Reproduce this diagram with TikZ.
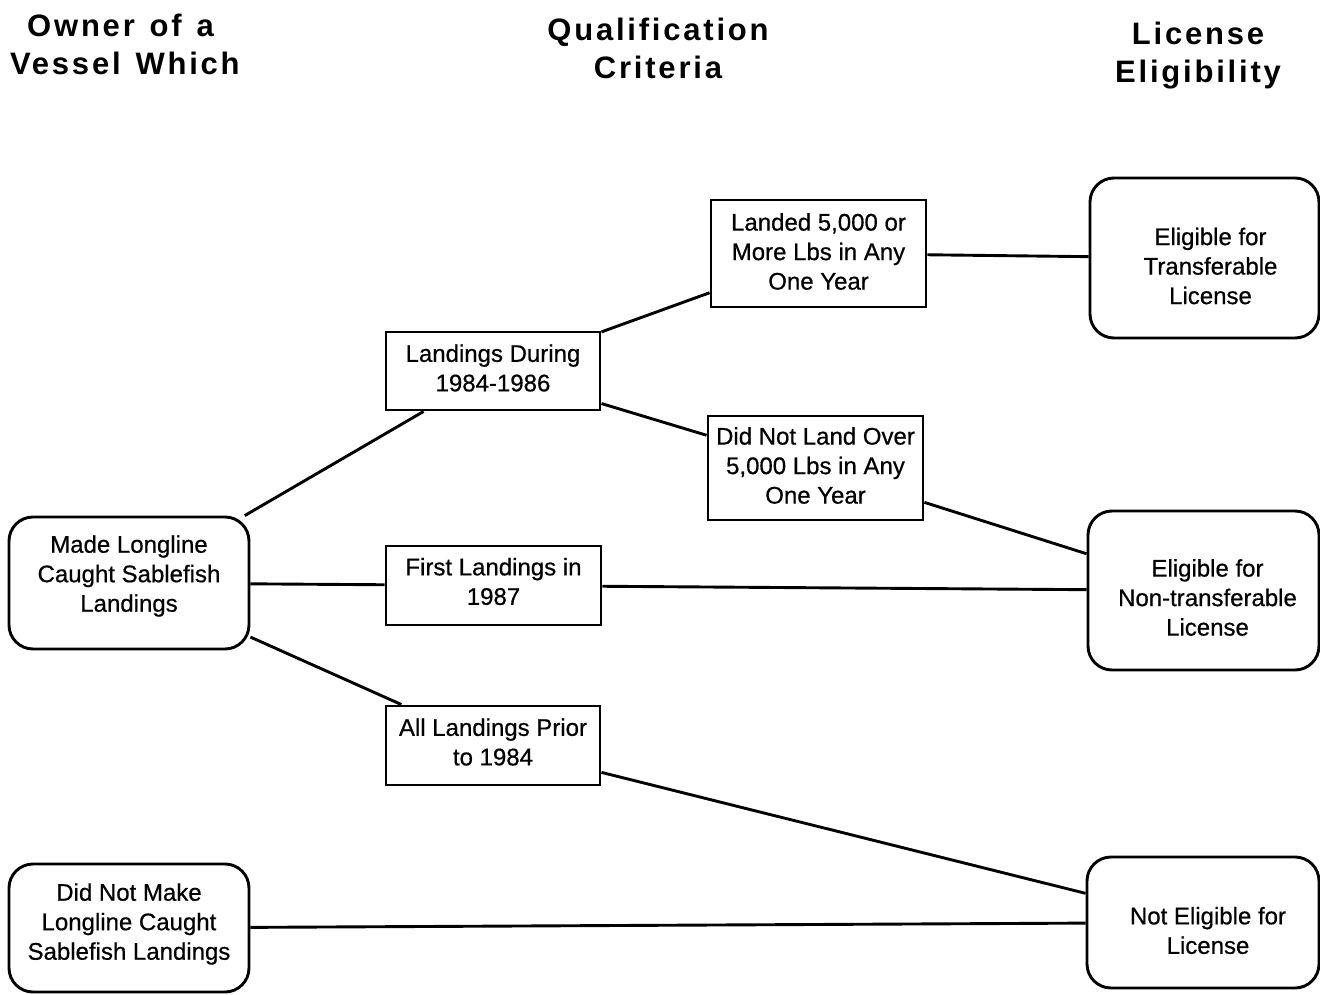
\documentclass[tikz,border=0pt]{standalone}
\usepackage{fontspec}
\setmainfont{Liberation Sans}
\newfontfamily\boxfont[FakeBold=0.6]{Liberation Sans}
\newfontfamily\hdrfont[LetterSpace=9,WordSpace=1.3]{Liberation Sans}
\begin{document}
\begin{tikzpicture}[x=1pt,y=-1pt,
  lw/.style={line width=2.9pt},
  hdr/.style={inner sep=0pt,font=\hdrfont\bfseries\fontsize{31}{38}\selectfont},
  txt/.style={align=center,inner sep=0pt,font=\boxfont\fontsize{24}{29.5}\selectfont},
  sq/.style={lw,draw,rectangle,inner sep=0pt},
  rnd/.style={lw,draw,rectangle,rounded corners=24pt,inner sep=0pt},
  conn/.style={lw}]
\useasboundingbox (0,0) rectangle (1320,995);
% headers
\node[hdr,align=left,anchor=west] (h1) at (10,44) {\hspace*{17pt}Owner of a\\Vessel Which};
\node[hdr,align=center] (h2) at (658,48) {Qualification\\Criteria};
\node[hdr,align=center] (h3) at (1198,56) {License\\Eligibility};
% left boxes
\node[rnd,minimum width=240pt,minimum height=132pt] (A) at (129,583) {};
\node[rnd,minimum width=240pt,minimum height=128pt] (B) at (129,928) {};
% middle boxes
\node[sq,minimum width=214pt,minimum height=78pt] (L) at (493,371) {};
\node[sq,minimum width=215pt,minimum height=79pt] (F) at (493.5,585.5) {};
\node[sq,minimum width=214pt,minimum height=79pt] (P) at (493,745.5) {};
\node[sq,minimum width=215pt,minimum height=107pt] (M) at (818.5,253.5) {};
\node[sq,minimum width=215pt,minimum height=104pt] (N) at (815.5,468) {};
% right boxes
\node[rnd,minimum width=229pt,minimum height=160pt] (T) at (1204.5,258) {};
\node[rnd,minimum width=231pt,minimum height=159pt] (U) at (1203.5,590.5) {};
\node[rnd,minimum width=232pt,minimum height=131pt] (X) at (1203,922.5) {};
% texts
\node[txt] (At) at ([yshift=7pt]A.center) {Made Longline\\Caught Sablefish\\Landings};
\node[txt] (Bt) at ([yshift=4pt]B.center) {Did Not Make\\Longline Caught\\Sablefish Landings};
\node[txt] (Lt) at ([yshift=3pt]L.center) {Landings During\\1984-1986};
\node[txt] (Ft) at ([yshift=4pt]F.center) {First Landings in\\1987};
\node[txt] (Pt) at ([yshift=3.5pt]P.center) {All Landings Prior\\to 1984};
\node[txt] (Mt) at ([yshift=2pt]M.center) {Landed 5,000 or\\More Lbs in Any\\One Year};
\node[txt] (Nt) at ([yshift=2.5pt]N.center) {Did Not Land Over\\5,000 Lbs in Any\\One Year};
\node[txt] (Tt) at ([xshift=6pt,yshift=-8pt]T.center) {Eligible for\\Transferable\\License};
\node[txt] (Ut) at ([xshift=4pt,yshift=-7pt]U.center) {Eligible for\\Non-transferable\\License};
\node[txt] (Xt) at ([xshift=5pt,yshift=-8pt]X.center) {Not Eligible for\\License};
% connectors
\draw[conn] (A) -- (L);
\draw[conn] (A) -- (F);
\draw[conn] (A) -- (P);
\draw[conn] (L) -- (M);
\draw[conn] (L) -- (N);
\draw[conn] (M) -- (T);
\draw[conn] (N) -- (U);
\draw[conn] (F) -- (U);
\draw[conn] (P) -- (X);
\draw[conn] (B) -- (X);
\end{tikzpicture}
\end{document}
